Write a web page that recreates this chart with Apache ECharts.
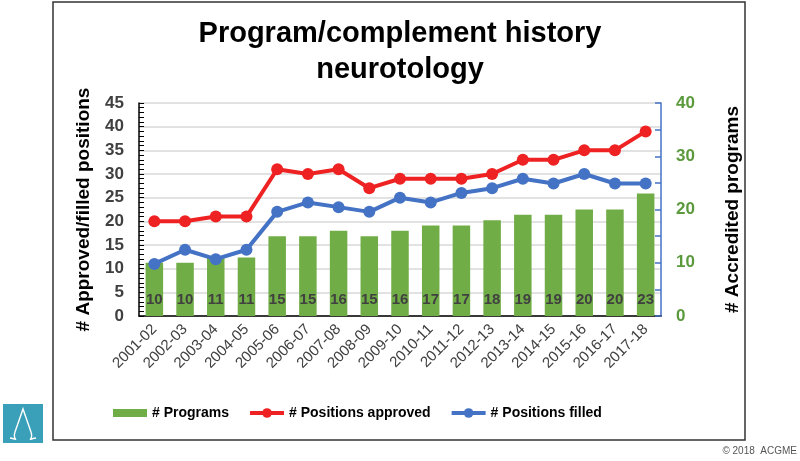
<!DOCTYPE html>
<html>
<head>
<meta charset="utf-8">
<script src="https://cdn.jsdelivr.net/npm/echarts@6/dist/echarts.min.js"></script>
<style>html,body{margin:0;padding:0;background:#fff}#c{width:800px;height:461px}</style>
</head>
<body>
<div id="c"></div>
<script>
const categories = ['2001-02','2002-03','2003-04','2004-05','2005-06','2006-07','2007-08','2008-09','2009-10','2010-11','2011-12','2012-13','2013-14','2014-15','2015-16','2016-17','2017-18'];
const programs = [10,10,11,11,15,15,16,15,16,17,17,18,19,19,20,20,23];
const positionsApproved = [20,20,21,21,31,30,31,27,29,29,29,30,33,33,35,35,39];
const positionsFilled = [11,14,12,14,22,24,23,22,25,24,26,27,29,28,30,28,28];
const leftTicks = {min:0, max:45, interval:5};
const rightTicks = {min:0, max:40, interval:10};

const FONT = 'Liberation Sans, Arial, sans-serif';
const chart = echarts.init(document.getElementById('c'), null, {renderer:'canvas'});
const W = {stroke:'#fff', lineWidth:1.4, fill:'none'};
chart.setOption({
  animation:false,
  backgroundColor:'#fff',
  textStyle:{fontFamily:FONT},
  title:{
    text:'Program/complement history\nneurotology',
    left:'center', top:11,
    textStyle:{fontFamily:FONT, fontSize:29, fontWeight:'bold', color:'#000', lineHeight:36}
  },
  legend:{
    left:108, top:401, itemGap:19, itemWidth:34, itemHeight:12,
    textStyle:{fontFamily:FONT, fontSize:14, fontWeight:'bold', color:'#000'},
    data:[
      {name:'# Programs', icon:'path://M0,0H34V8H0Z', itemStyle:{color:'#70AD47'}},
      {name:'# Positions approved', lineStyle:{width:4}},
      {name:'# Positions filled', lineStyle:{width:4}}
    ]
  },
  grid:{left:139, right:139, top:103, bottom:145, containLabel:false},
  xAxis:[{
    type:'category', data:categories,
    axisLine:{show:false}, axisTick:{show:false},
    axisLabel:{rotate:45, fontSize:15, color:'#404040', margin:11, fontFamily:FONT, interval:0}
  },{
    type:'category', data:categories, position:'top',
    axisLine:{show:true, lineStyle:{color:'#000', width:1.5}},
    axisTick:{show:false}, axisLabel:{show:false}
  }],
  yAxis:[{
    type:'value', min:leftTicks.min, max:leftTicks.max, interval:leftTicks.interval,
    name:'# Approved/filled positions', nameLocation:'middle', nameGap:46, nameRotate:90,
    nameTextStyle:{fontFamily:FONT, fontSize:19, fontWeight:'bold', color:'#000'},
    axisLine:{show:true, lineStyle:{color:'#000', width:1.5}},
    axisTick:{show:true, inside:true, length:5, lineStyle:{color:'#000'}},
    minorTick:{show:true, splitNumber:5, length:5, lineStyle:{color:'#000'}},
    axisLabel:{fontSize:17, fontWeight:'bold', color:'#404040', margin:15, fontFamily:FONT},
    splitLine:{show:true, lineStyle:{color:'#D9D9D9', width:1.5}}
  },{
    type:'value', min:rightTicks.min, max:rightTicks.max, interval:rightTicks.interval,
    name:'# Accredited programs', nameLocation:'middle', nameGap:62, nameRotate:90,
    nameTextStyle:{fontFamily:FONT, fontSize:19, fontWeight:'bold', color:'#000'},
    axisLine:{show:true, lineStyle:{color:'#4472C4', width:1.5}},
    axisTick:{show:true, inside:true, length:6, lineStyle:{color:'#4472C4', width:1.5}},
    minorTick:{show:true, splitNumber:2, length:6, lineStyle:{color:'#4472C4', width:1.5}},
    axisLabel:{fontSize:17, fontWeight:'bold', color:'#5B9A3C', margin:15, fontFamily:FONT},
    splitLine:{show:false}
  }],
  series:[{
    name:'# Programs', type:'bar', yAxisIndex:1, data:programs, barWidth:'57%',
    itemStyle:{color:'#70AD47'},
    label:{show:true, position:'insideBottom', distance:9, fontSize:15, fontWeight:'bold', color:'#404040', fontFamily:FONT},
    z:2
  },{
    name:'# Positions approved', type:'line', yAxisIndex:0, data:positionsApproved,
    symbol:'circle', symbolSize:12, lineStyle:{color:'#EE2222', width:4},
    itemStyle:{color:'#EE2222'}, z:4
  },{
    name:'# Positions filled', type:'line', yAxisIndex:0, data:positionsFilled,
    symbol:'circle', symbolSize:12, lineStyle:{color:'#4472C4', width:4},
    itemStyle:{color:'#4472C4'}, z:3
  }],
  graphic:[
    {type:'rect', shape:{x:53, y:2, width:692, height:438}, style:{fill:'none', stroke:'#333', lineWidth:1.5}, silent:true},
    {type:'rect', shape:{x:3, y:404, width:40, height:39}, style:{fill:'#3A9FB8'}},
    {type:'polyline', shape:{points:[[15,432],[23,409],[31,432]]}, style:W},
    {type:'bezierCurve', shape:{x1:15, y1:432, x2:10, y2:438, cpx1:12, cpy1:441, cpx2:21, cpy2:440}, style:W},
    {type:'bezierCurve', shape:{x1:31, y1:432, x2:36, y2:438, cpx1:34, cpy1:441, cpx2:25, cpy2:440}, style:W},
    {type:'text', right:3, top:446, style:{text:'© 2018  ACGME', fontSize:10, fill:'#555', fontFamily:FONT}}
  ]
});
</script>
</body>
</html>
